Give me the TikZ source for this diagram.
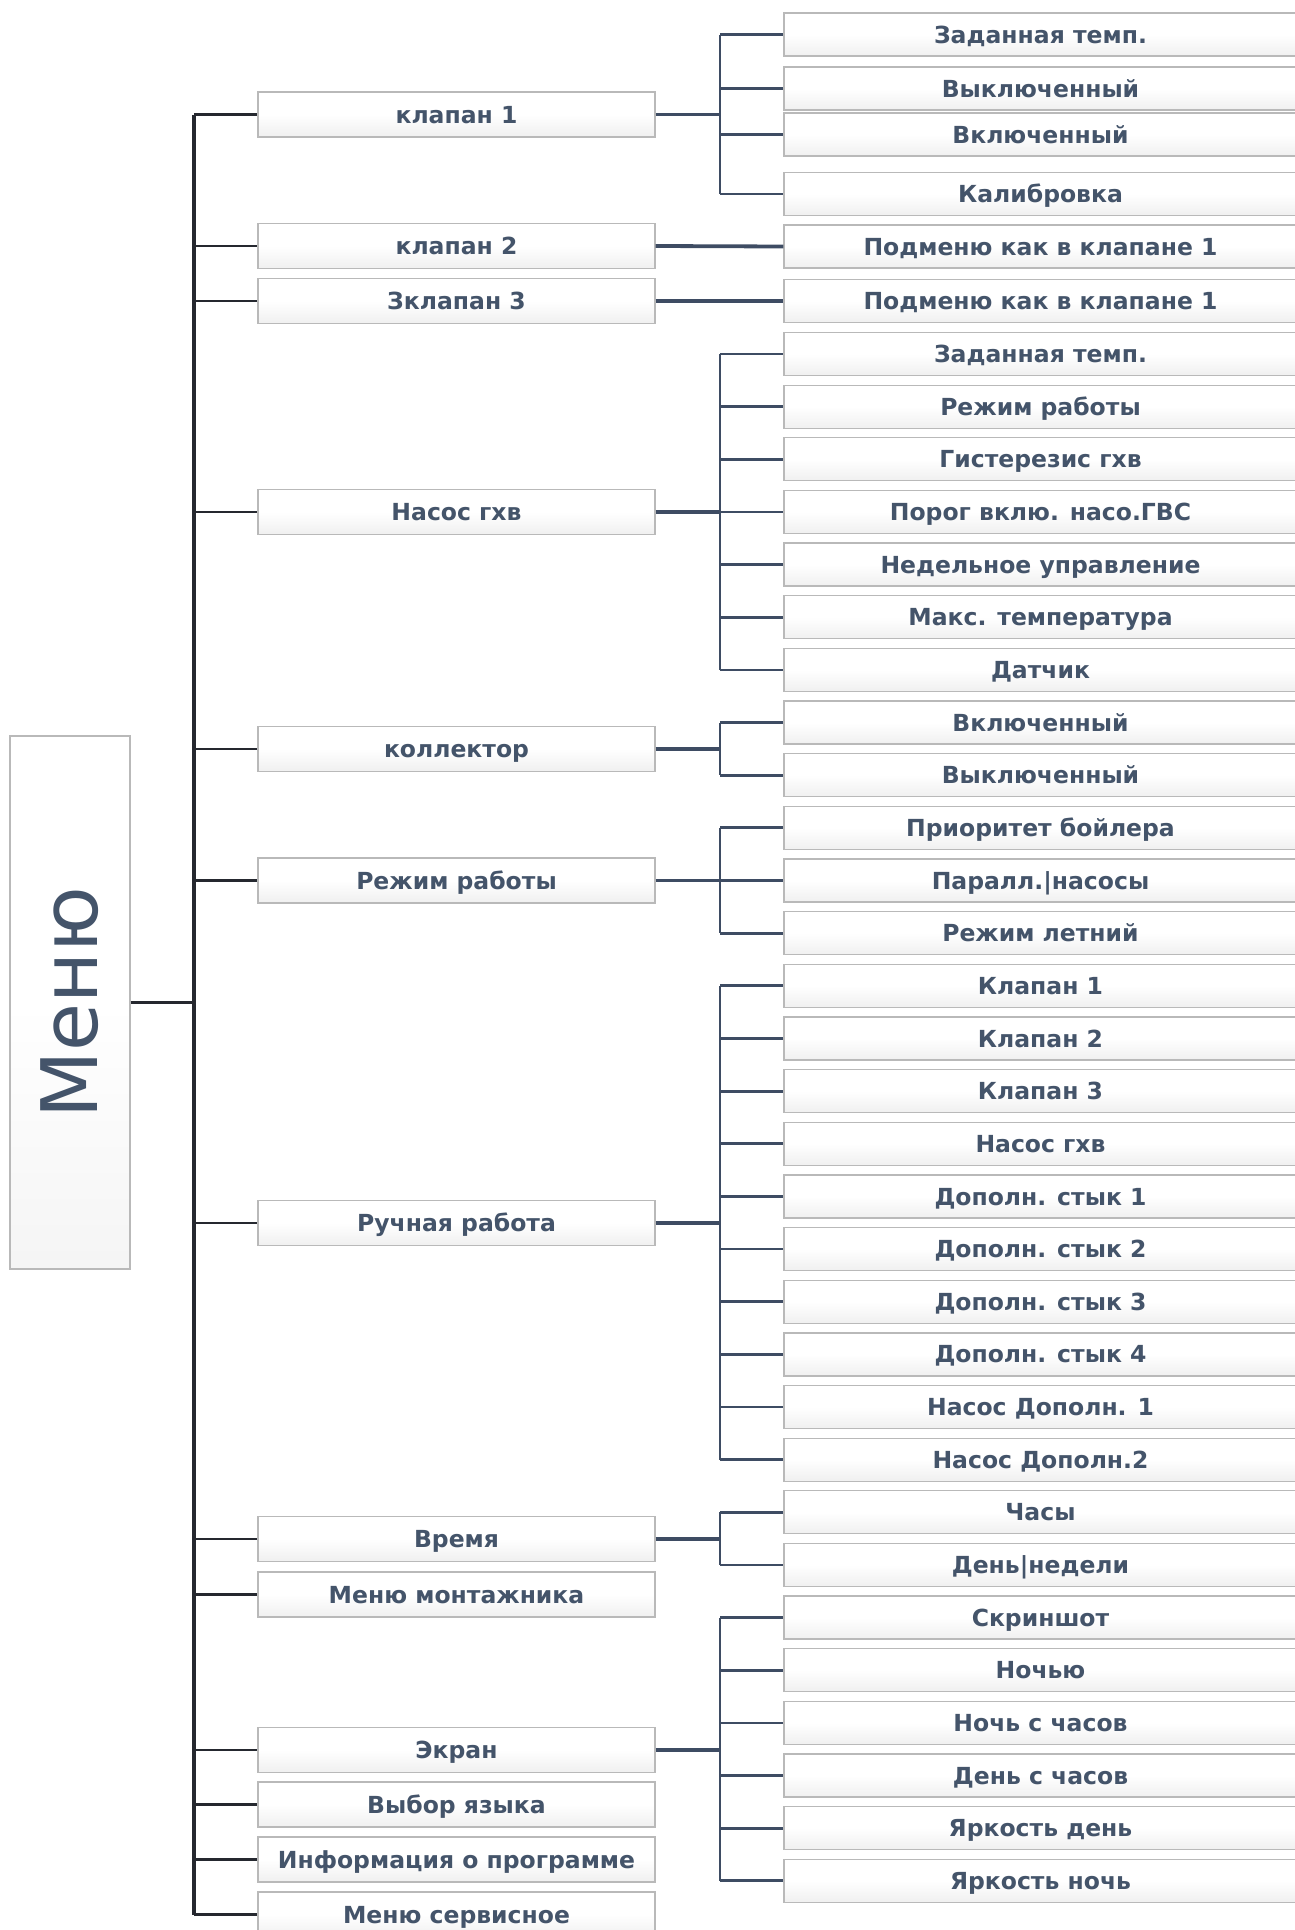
\documentclass[tikz,border=0pt]{standalone}
\usepackage{fontspec}
\setmainfont{DejaVu Sans}
\definecolor{txt}{HTML}{44546A}
\definecolor{lnk}{HTML}{3E4C63}
\definecolor{trk}{HTML}{25282F}
\tikzset{
 box/.style={draw=gray!55, line width=1.3pt, top color=white, bottom color=gray!12, middle color=white, text=txt, font=\fontsize{23.5}{27}\selectfont\bfseries, inner sep=0pt, align=center, text height=17.2pt, text depth=0pt},
 mbox/.style={box, minimum width=397pt, minimum height=45pt},
 rbox/.style={box, minimum width=513pt, minimum height=43pt},
 l1/.style={draw=trk, line width=2.6pt},
 l2/.style={draw=lnk, line width=2.8pt},
 l2p/.style={draw=lnk, line width=3.8pt},
}
\begin{document}
\begin{tikzpicture}[x=1pt, y=-1pt]
\useasboundingbox (0,0) rectangle (1295,1930);
\coordinate (tx) at (194,0);
\coordinate (bx) at (720,0);
% root
\node[draw=gray!55, line width=1.3pt, top color=white, bottom color=gray!8, middle color=white, minimum width=120pt, minimum height=533pt, inner sep=0pt] (menu) at (70,1002.5) {};
\node[rotate=90, text=txt, font=\fontsize{78}{80}\selectfont, inner sep=0pt] (menutxt) at (70,1002.5) {Меню};
% middle column
\node[mbox] (m1) at (456.5,114.5) {клапан 1};
\node[mbox] (m2) at (456.5,246) {клапан 2};
\node[mbox] (m3) at (456.5,301) {Зклапан 3};
\node[mbox] (m4) at (456.5,512) {Насос гхв};
\node[mbox] (m5) at (456.5,749) {коллектор};
\node[mbox] (m6) at (456.5,880.5) {Режим работы};
\node[mbox] (m7) at (456.5,1223) {Ручная работа};
\node[mbox] (m8) at (456.5,1539) {Время};
\node[mbox] (m9) at (456.5,1594.5) {Меню монтажника};
\node[mbox] (m10) at (456.5,1750) {Экран};
\node[mbox] (m11) at (456.5,1804.5) {Выбор языка};
\node[mbox] (m12) at (456.5,1859.5) {Информация о программе};
\node[mbox] (m13) at (456.5,1914.5) {Меню сервисное};
% right column
\node[rbox] (ra) at (1040.5,34.5) {Заданная темп.};
\node[rbox] (rb) at (1040.5,88.5) {Выключенный};
\node[rbox] (rc) at (1040.5,134.5) {Включенный};
\node[rbox] (rd) at (1040.5,194) {Калибровка};
\node[rbox] (re) at (1040.5,246.5) {Подменю как в клапане 1};
\node[rbox] (rf) at (1040.5,301) {Подменю как в клапане 1};
\node[rbox] (r0) at (1040.5,354) {Заданная темп.};
\node[rbox] (r1) at (1040.5,406.65) {Режим работы};
\node[rbox] (r2) at (1040.5,459.3) {Гистерезис гхв};
\node[rbox] (r3) at (1040.5,511.95) {Порог вклю. насо.ГВС};
\node[rbox] (r4) at (1040.5,564.6) {Недельное управление};
\node[rbox] (r5) at (1040.5,617.25) {Макс. температура};
\node[rbox] (r6) at (1040.5,669.9) {Датчик};
\node[rbox] (r7) at (1040.5,722.55) {Включенный};
\node[rbox] (r8) at (1040.5,775.2) {Выключенный};
\node[rbox] (r9) at (1040.5,827.85) {Приоритет бойлера};
\node[rbox] (r10) at (1040.5,880.5) {Паралл.|насосы};
\node[rbox] (r11) at (1040.5,933.15) {Режим летний};
\node[rbox] (r12) at (1040.5,985.8) {Клапан 1};
\node[rbox] (r13) at (1040.5,1038.45) {Клапан 2};
\node[rbox] (r14) at (1040.5,1091.1) {Клапан 3};
\node[rbox] (r15) at (1040.5,1143.75) {Насос гхв};
\node[rbox] (r16) at (1040.5,1196.4) {Дополн. стык 1};
\node[rbox] (r17) at (1040.5,1249.05) {Дополн. стык 2};
\node[rbox] (r18) at (1040.5,1301.7) {Дополн. стык 3};
\node[rbox] (r19) at (1040.5,1354.35) {Дополн. стык 4};
\node[rbox] (r20) at (1040.5,1407) {Насос Дополн. 1};
\node[rbox] (r21) at (1040.5,1459.65) {Насос Дополн.2};
\node[rbox] (r22) at (1040.5,1512.3) {Часы};
\node[rbox] (r23) at (1040.5,1564.95) {День|недели};
\node[rbox] (r24) at (1040.5,1617.6) {Скриншот};
\node[rbox] (r25) at (1040.5,1670.25) {Ночью};
\node[rbox] (r26) at (1040.5,1722.9) {Ночь с часов};
\node[rbox] (r27) at (1040.5,1775.55) {День с часов};
\node[rbox] (r28) at (1040.5,1828.2) {Яркость день};
\node[rbox] (r29) at (1040.5,1880.85) {Яркость ночь};
% level 1 connectors
\draw[l1, line width=3.6pt] (menu.east) -- (menu.east -| tx);
\draw[l1, line width=3.2pt] (tx |- m1.west) -- (tx |- m13.west);
\foreach \m in {m1,m2,m3,m4,m5,m6,m7,m8,m9,m10,m11,m12,m13}
  \draw[l1] (tx |- \m.west) -- (\m.west);
% level 2 connectors
\draw[l2p] (m2.east) -- (re.west);
\draw[l2p] (m3.east) -- (rf.west);
\foreach \p/\a/\b/\list in {m1/ra/rd/{ra,rb,rc,rd}, m4/r0/r6/{r0,r1,r2,r3,r4,r5,r6}, m5/r7/r8/{r7,r8}, m6/r9/r11/{r9,r10,r11}, m7/r12/r21/{r12,r13,r14,r15,r16,r17,r18,r19,r20,r21}, m8/r22/r23/{r22,r23}, m10/r24/r29/{r24,r25,r26,r27,r28,r29}}{
  \draw[l2p] (\p.east) -- (bx |- \p.east);
  \draw[l2] (bx |- \a.west) -- (bx |- \b.west);
  \foreach \c in \list
    \draw[l2] (bx |- \c.west) -- (\c.west);
}
\end{tikzpicture}
\end{document}
